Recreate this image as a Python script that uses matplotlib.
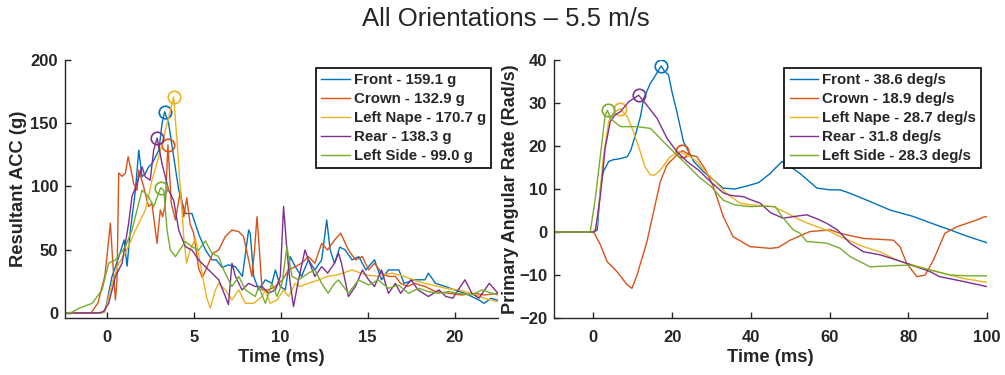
'''
All orientations at 5.5 m/s: resultant acceleration and primary angular rate
'''
import numpy as np
import matplotlib
matplotlib.use('Agg')
from matplotlib import pyplot as plt

plt.rcParams['font.family'] = ['Liberation Sans', 'DejaVu Sans']

TITLE = 'All Orientations \u2013 5.5 m/s'
LOCATIONS = ['Front', 'Crown', 'Left Nape', 'Rear', 'Left Side']
COLORS = ['#0072BD', '#D95319', '#EDB120', '#7E2F8E', '#77AC30']

# (time ms, resultant acc g)
FRONT_ACC = [(-2.4, 0), (-0.3, 0), (-0.1, 1), (0.3, 28.7), (0.7, 44.5), (1.0, 57.7), (1.17, 37), (1.36, 65.5),
             (1.65, 97), (1.84, 128.7), (2.03, 107.6), (2.22, 110.3), (2.41, 115.5), (2.6, 118), (3.0, 128.7),
             (3.18, 149.8), (3.33, 159.1), (3.56, 149.8), (3.85, 123.4), (4.14, 97.1), (4.52, 78.6), (4.9, 78.6),
             (5.3, 62), (5.67, 50), (6.05, 42), (6.3, 41.9), (6.63, 36), (7.0, 38), (7.4, 36.6), (7.8, 28.9),
             (8.16, 65.6), (8.25, 63), (8.45, 28.9), (8.74, 18.2), (9.12, 26.2), (9.5, 23.4), (9.7, 34), (9.98, 20.9),
             (10.27, 18.2), (10.55, 44.5), (10.84, 36.6), (11.2, 28.9), (11.6, 42), (11.97, 34), (12.36, 42),
             (12.65, 73.5), (12.85, 49.8), (13.1, 39.3), (13.4, 52), (13.7, 50), (14.1, 42), (14.5, 44.5), (14.9, 34),
             (15.4, 42), (15.8, 26.2), (16.2, 34), (16.8, 34), (17.1, 23.4), (17.7, 26.2), (18.3, 26.2), (18.5, 31.5),
             (18.9, 23.4), (19.5, 20.8), (20.0, 18.2), (20.6, 15.5), (21.4, 10.3), (21.7, 7.6), (22.1, 11.6), (22.5, 10)]
CROWN_ACC = [(-2.4, 0), (-0.9, 0), (-0.5, 8), (-0.1, 30), (0.21, 71), (0.4, 28.7), (0.5, 10.3), (0.59, 26),
             (0.69, 110.6), (0.88, 108), (1.07, 110.3), (1.23, 123.5), (1.36, 115.5), (1.55, 102.3), (1.74, 97),
             (1.84, 113), (2.12, 100), (2.41, 84), (2.6, 86.7), (2.89, 55), (3.08, 81.4), (3.22, 76), (3.37, 86.7),
             (3.52, 132.9), (3.71, 86.7), (3.95, 73.5), (4.24, 97), (4.43, 76), (4.6, 91), (4.8, 70), (5.0, 63),
             (5.29, 35), (5.5, 28), (5.86, 39.3), (6.1, 47), (6.44, 49.8), (6.82, 60.4), (7.2, 65.6), (7.59, 64.3),
             (7.87, 60.4), (8.16, 42), (8.35, 28.9), (8.5, 49.8), (8.64, 76.1), (8.78, 49.8), (8.93, 18.2),
             (9.3, 18.2), (9.7, 20.9), (10.1, 26.2), (10.46, 34), (10.84, 36.6), (11.2, 39.3), (11.6, 44.5),
             (11.97, 39.3), (12.36, 55), (12.7, 49.8), (13.1, 57.7), (13.45, 63), (13.9, 49.8), (14.3, 42),
             (14.7, 44.5), (15.06, 34), (15.4, 39.3), (15.8, 31.5), (16.2, 28.9), (16.6, 28.9), (16.9, 23.4),
             (17.3, 20.9), (17.7, 23.4), (18.3, 20.9), (18.9, 16.9), (19.7, 15.5), (20.4, 14.2), (21.2, 15.5),
             (21.7, 14.2), (22.5, 15.5)]
NAPE_ACC = [(-2.4, 0), (-0.3, 0), (-0.1, 1), (0.3, 23.4), (0.69, 39.3), (1.07, 47.2), (1.65, 65.5), (2.22, 81.3),
            (2.6, 105), (2.99, 123.4), (3.37, 144.4), (3.66, 160), (3.85, 170.7), (4.04, 136.5), (4.24, 97),
            (4.43, 60), (4.59, 39.3), (4.8, 50), (5.1, 59), (5.3, 45), (5.5, 30), (5.75, 12), (5.96, 3.8),
            (6.25, 18.2), (6.44, 23.4), (6.82, 18.2), (7.2, 10.3), (7.59, 18.2), (7.97, 7.6), (8.45, 7.6), (8.93, 13),
            (9.12, 18.2), (9.4, 7.6), (9.8, 10.3), (10.17, 18.2), (10.46, 13), (10.84, 23.4), (11.1, 20.9),
            (11.6, 23.4), (12.2, 26.2), (12.7, 28.9), (13.3, 30.2), (14.1, 34), (14.9, 30.2), (15.6, 28.9),
            (16.4, 31.5), (17.1, 28.9), (17.9, 24.9), (18.7, 22.1), (19.5, 19.5), (20.2, 18.2), (21.0, 15.5),
            (21.7, 11.6), (22.5, 8.9)]
REAR_ACC = [(-2.4, 0), (-0.5, 0), (-0.2, 1), (0.11, 7.6), (0.5, 28.7), (0.88, 39.3), (1.26, 70.9), (1.45, 92),
            (1.74, 102.3), (2.03, 115.5), (2.22, 107.6), (2.5, 105), (2.7, 128.7), (2.9, 138.3), (3.18, 118),
            (3.56, 97), (3.85, 89), (4.14, 65.5), (4.52, 52.4), (4.9, 49.7), (5.29, 41.8), (5.67, 36.6), (6.05, 31.5),
            (6.44, 26.2), (6.82, 13), (7.0, 6.5), (7.2, 39.3), (7.4, 28.9), (7.78, 18.2), (8.16, 23.4), (8.54, 20.9),
            (8.93, 20.9), (9.3, 15.6), (9.7, 18.2), (9.98, 28.9), (10.17, 84.2), (10.36, 49.8), (10.55, 23.4),
            (10.74, 5), (11.03, 26.2), (11.4, 49.8), (11.6, 42), (11.97, 28.9), (12.36, 36.6), (12.7, 31.5),
            (13.1, 39.3), (13.33, 47.2), (13.5, 39.3), (13.9, 13), (14.3, 20.9), (14.7, 34), (15.06, 26.2),
            (15.4, 20.9), (15.8, 34), (16.2, 15.5), (16.6, 23.4), (16.9, 15.5), (17.5, 26.2), (17.9, 18.2),
            (18.5, 13), (19.1, 18.2), (19.5, 13), (19.9, 11.7), (20.6, 26.2), (21.0, 15.5), (21.4, 11.7),
            (22.0, 23.4), (22.5, 15.5)]
SIDE_ACC = [(-2.4, 0), (-2.0, 0.5), (-1.6, 3.7), (-0.84, 7.6), (-0.27, 18.2), (0.11, 39.3), (0.5, 41.9), (1.07, 52.4),
            (1.45, 65.5), (2.03, 97.1), (2.41, 91.9), (2.7, 84), (3.1, 99.0), (3.28, 97), (3.47, 65.5), (3.66, 49.7),
            (3.95, 44.5), (4.52, 56.4), (4.9, 52.4), (5.29, 49.7), (5.67, 57), (6.05, 47.2), (6.44, 44.5),
            (6.72, 34), (7.2, 20.9), (7.59, 28.9), (7.97, 18.2), (8.54, 13), (8.74, 20.9), (9.12, 7.6), (9.5, 23.4),
            (9.79, 13), (10.08, 23.4), (10.36, 52.4), (10.65, 28.9), (11.03, 26.2), (11.6, 31.5), (11.97, 34),
            (12.36, 23.4), (12.73, 15.6), (13.1, 23.4), (13.33, 26.1), (13.9, 15.5), (14.48, 26.1), (15.06, 22.1),
            (15.6, 26.1), (16.2, 19.5), (16.78, 22.1), (17.36, 15.5), (17.93, 19.5), (18.5, 16.9), (19.08, 15.5),
            (19.66, 16.9), (20.23, 15.5), (21.0, 14.2), (21.57, 18.2), (22.5, 14.2)]

# (time ms, primary angular rate)
FRONT_RATE = [(-10, 0), (0, 0), (1, 0.5), (1.8, 10.2), (2.5, 14), (3.9, 16.4), (5, 16.8), (6.5, 17), (8.6, 17.5),
              (9.5, 19), (10.7, 22.6), (12, 27), (12.8, 31.1), (14.5, 34.6), (15.5, 36), (17.2, 38.6), (18, 37.5),
              (19.1, 36.5), (20, 32.5), (21.2, 28), (22.9, 21), (25.5, 16.4), (28, 14), (30, 12.5), (33, 10.2),
              (36, 10), (39.8, 10.9), (42, 11.5), (44.9, 13.6), (47.9, 16.4), (50, 15.2), (52.5, 13.6), (56.8, 10.2),
              (60.2, 9.8), (62.7, 9.8), (65.2, 9.0), (70, 7.2), (75.4, 5.1), (81.3, 3.6), (86, 2), (90.6, 0.5),
              (95, -1), (100, -2.5)]
CROWN_RATE = [(-10, 0), (0, 0), (0.5, -0.7), (1.8, -3), (3.5, -6.9), (6, -9.2), (8.6, -12.3), (9.8, -13.1),
              (11.1, -10), (13.6, -2.3), (15.3, 4.7), (17, 11.7), (18.7, 15.6), (21.2, 17.9), (22.6, 18.9),
              (24.6, 17.9), (26.3, 17.5), (28.5, 14.5), (30.5, 10.5), (33, 3.6), (35.5, -1.1), (39.8, -3.4),
              (44.9, -3.8), (47, -3.6), (50, -1.9), (55, 0.1), (60.2, 0.5), (62.7, -0.3), (68.6, -1.5), (76.2, -1.9),
              (77.9, -3.4), (79.6, -7.3), (82.2, -10.4), (84.3, -10), (86.4, -6.5), (89.3, -0.3), (92.3, 1.2),
              (97.4, 2.8), (99.5, 3.6), (100, 3.5)]
NAPE_RATE = [(-10, 0), (0, 0), (0.9, 1.6), (2.6, 17.9), (3.9, 25.7), (5.2, 27.8), (6.8, 28.7), (8.6, 26.8),
             (10.2, 23.3), (11.9, 18.7), (13.2, 15), (14.5, 13.3), (15.5, 13.2), (17, 14.4), (19.5, 17.5),
             (21.7, 18.7), (24.6, 17.5), (26.3, 16.4), (28.5, 14), (31.4, 11.3), (34, 8.8), (37.3, 6.7), (40, 6.3),
             (45.7, 5.9), (49, 4.5), (52.5, 2.8), (56, 1.5), (60.2, 0.1), (62.7, -1.1), (68.6, -3.4), (72.8, -4.6),
             (77, -6.5), (80.5, -7.5), (85.5, -8.8), (88, -9.4), (94, -10.8), (100, -11.7)]
REAR_RATE = [(-10, 0), (0, 0), (0.5, 0.2), (1.8, 8.6), (3, 19.5), (4.3, 25.7), (5.5, 27.2), (6.9, 28), (9, 30.3),
             (11.5, 31.8), (13.6, 29.5), (16.2, 26.4), (18.7, 21.8), (21.2, 18.7), (23.8, 16.4), (26.7, 14.4),
             (30, 11.5), (33, 9.1), (35, 8.5), (38.2, 8.2), (40, 7.5), (42.4, 6.7), (45, 4.5), (48.2, 3.2),
             (51, 3.6), (54.2, 4.0), (57, 3.0), (59.3, 2.0), (62, 0.5), (65.2, -2.6), (68.6, -4.6), (72.8, -5.3),
             (77, -6.5), (79.6, -7.3), (85.5, -9.2), (88, -10.4), (94, -11.5), (100, -12.7)]
SIDE_RATE = [(-10, 0), (-0.8, 0), (0.5, 7.8), (1.8, 17.9), (3.0, 27.2), (3.6, 28.3), (4.3, 26.4), (6.9, 24.5),
             (11.1, 24.5), (14.5, 24.1), (17.8, 21), (21.2, 17.9), (23.8, 15.6), (26.7, 12.9), (30, 10.5),
             (33, 7.4), (36, 6.3), (39.8, 5.9), (43, 6.0), (46.2, 5.9), (48, 3.5), (50.8, 0.5), (52.5, -0.3),
             (54.2, -2.2), (59.3, -2.6), (62.7, -3.8), (65.2, -5.7), (70.3, -8.1), (77, -7.8), (80.5, -7.7),
             (85.5, -8.8), (90.6, -10), (95, -10.2), (100, -10.2)]

ACC_SERIES = [FRONT_ACC, CROWN_ACC, NAPE_ACC, REAR_ACC, SIDE_ACC]
RATE_SERIES = [FRONT_RATE, CROWN_RATE, NAPE_RATE, REAR_RATE, SIDE_RATE]

TXT = '#262626'
W, H = 1005, 375


def setup_axes(ax):
    for side in ['top', 'right']:
        ax.spines[side].set_visible(False)
    for side in ['left', 'bottom']:
        ax.spines[side].set_color(TXT)
        ax.spines[side].set_linewidth(1.0)
    ax.tick_params(direction='in', length=4, width=1, colors=TXT, labelsize=12, pad=5)
    ax.tick_params(axis='x', pad=9)
    for lbl in ax.get_xticklabels() + ax.get_yticklabels():
        lbl.set_fontweight('bold')


def draw_panel(ax, series, unit):
    for name, color, data in zip(LOCATIONS, COLORS, series):
        t = np.array([p[0] for p in data])
        v = np.array([p[1] for p in data])
        ax.plot(t, v, color=color, lw=1.0, label='{} - {:.1f} {}'.format(name, v.max(), unit))
        #circle on the peak
        i = np.argmax(v)
        ax.plot(t[i], v[i], 'o', mfc='none', mec=color, ms=9, mew=1.2)


fig = plt.figure(figsize=(W / 100, H / 100), dpi=100)
fig.text(506 / W, 1 - 19 / H, TITLE, ha='center', va='center', fontsize=18.5, color=TXT)

# left: resultant acceleration
ax1 = fig.add_axes([65 / W, 1 - 318 / H, 433 / W, 258 / H])
draw_panel(ax1, ACC_SERIES, 'g')
ax1.set_xlim(-2.4, 22.5)
ax1.set_ylim(-4, 200)
ax1.set_xticks([0, 5, 10, 15, 20])
ax1.set_yticks([0, 50, 100, 150, 200])
setup_axes(ax1)
ax1.set_xlabel('Time (ms)', fontsize=13.2, fontweight='bold', color=TXT)
ax1.set_ylabel('Resultant ACC (g)', fontsize=13.2, fontweight='bold', color=TXT)
ax1.xaxis.set_label_coords(0.5, (318 - 349) / 258)
ax1.yaxis.set_label_coords((27 - 65) / 433, 0.5)

# right: primary angular rate
ax2 = fig.add_axes([554 / W, 1 - 318 / H, 433 / W, 258 / H])
draw_panel(ax2, RATE_SERIES, 'deg/s')
ax2.set_xlim(-10, 100)
ax2.set_ylim(-20, 40)
ax2.set_xticks([0, 20, 40, 60, 80, 100])
ax2.set_yticks([-20, -10, 0, 10, 20, 30, 40])
setup_axes(ax2)
ax2.set_xlabel('Time (ms)', fontsize=13.2, fontweight='bold', color=TXT)
ax2.set_ylabel('Primary Angular Rate (Rad/s)', fontsize=13.0, fontweight='bold', color=TXT)
ax2.xaxis.set_label_coords(0.5, (318 - 349) / 258)
ax2.yaxis.set_label_coords((519 - 554) / 433, 0.5)

for ax, right in [(ax1, 491), (ax2, 981)]:
    leg = ax.legend(loc='upper right', bbox_to_anchor=(right / W, 1 - 68 / H), bbox_transform=fig.transFigure,
                    borderaxespad=0, fancybox=False, framealpha=1, edgecolor='black',
                    prop={'weight': 'bold', 'size': 10.8}, handlelength=1.9, handletextpad=0.25,
                    labelspacing=0.33, borderpad=0.35)
    leg.get_frame().set_linewidth(1.2)
    for txt in leg.get_texts():
        txt.set_color(TXT)

plt.savefig('out.png', dpi=100)
